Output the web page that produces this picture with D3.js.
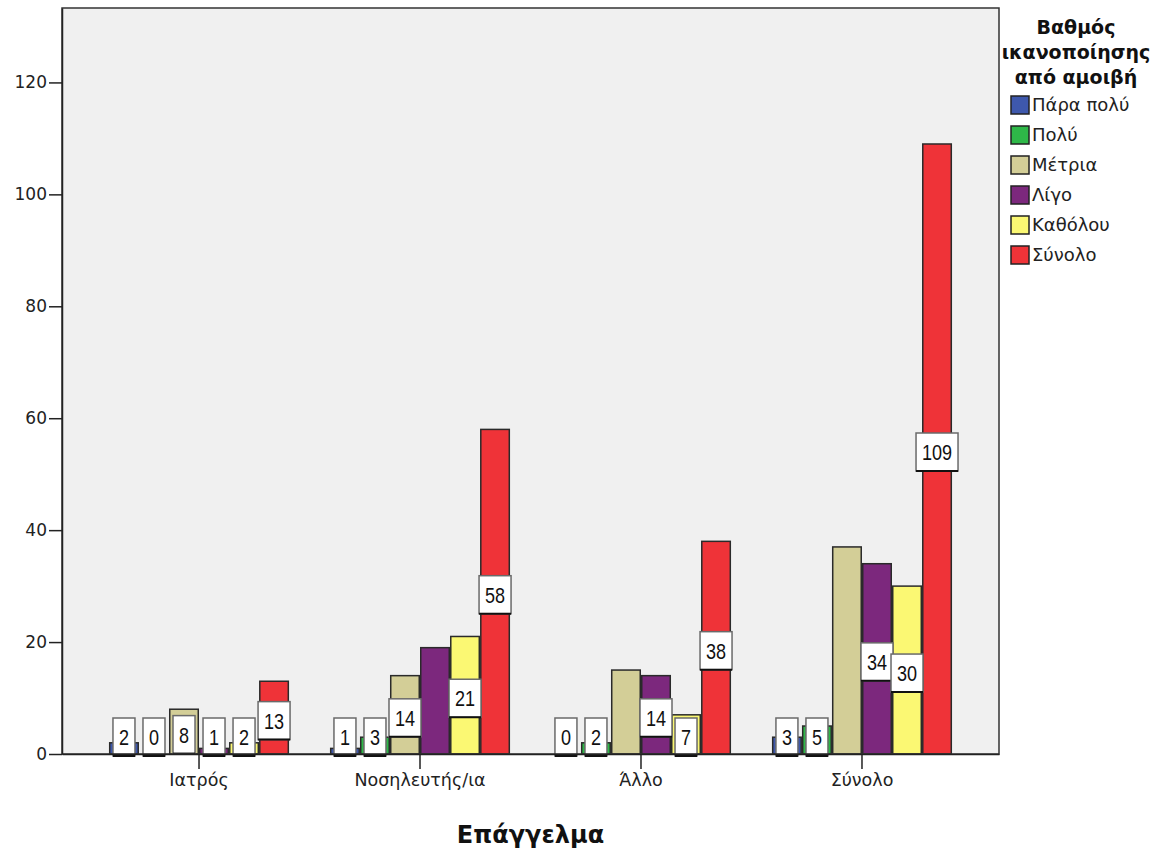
<!DOCTYPE html>
<html><head><meta charset="utf-8">
<script src="https://cdn.jsdelivr.net/npm/d3@7"></script>
<style>body{margin:0;background:#fff;}svg{display:block;font-family:"Liberation Sans",Arial,sans-serif;}</style>
</head><body><svg id="c" width="1156" height="854"></svg>
<script>
const categories = ["Ιατρός","Νοσηλευτής/ια","Άλλο","Σύνολο"];
const seriesNames = ["Πάρα πολύ","Πολύ","Μέτρια","Λίγο","Καθόλου","Σύνολο"];
const seriesColors = ["#3E58AC","#2EB848","#D3CE97","#7C287D","#FBF873","#EF3338"];
const valParaPoli = [2,1,0,3];
const valPoli = [0,3,2,5];
const valMetria = [8,14,15,37];
const valLigo = [1,19,14,34];
const valKatholou = [2,21,7,30];
const valSynolo = [13,58,38,109];
// which bars carry a label box (true = labelled)
const labelParaPoli = [true,true,true,true];
const labelPoli = [true,true,true,true];
const labelMetria = [true,true,false,false];
const labelLigo = [true,false,true,true];
const labelKatholou = [true,true,true,true];
const labelSynolo = [true,true,true,true];
const yTicks = [0,20,40,60,80,100,120];
const xTitle = "Επάγγελμα";
const legendTitle = ["Βαθμός","ικανοποίησης","από αμοιβή"];

const series = [valParaPoli,valPoli,valMetria,valLigo,valKatholou,valSynolo];
const labels = [labelParaPoli,labelPoli,labelMetria,labelLigo,labelKatholou,labelSynolo];
const WIDE = "'DejaVu Sans',Verdana,sans-serif";

const svg = d3.select("#c");
const L=62, T=8, R=999, B=754;
const x = d3.scaleBand().domain(categories).range([L,R]).paddingInner(0).paddingOuter(0.12);
const inner = d3.scaleBand().domain(d3.range(seriesNames.length)).range([0, x.bandwidth()*0.815]).padding(0);
const off = (x.bandwidth() - inner.range()[1])/2;
const y = d3.scaleLinear().domain([0,133.3]).range([B,T]);

svg.append("rect").attr("x",L).attr("y",T).attr("width",R-L).attr("height",B-T).attr("fill","#F0F0F0");

const data=[];
categories.forEach((c,ci)=>series.forEach((s,si)=>data.push({c,si,v:s[ci],lab:labels[si][ci]})));

svg.append("g").selectAll("rect").data(data.filter(d=>d.v>0)).join("rect")
  .attr("x",d=>x(d.c)+off+inner(d.si)+0.75)
  .attr("y",d=>y(d.v))
  .attr("width",inner.bandwidth()-1.5)
  .attr("height",d=>B-y(d.v))
  .attr("fill",d=>seriesColors[d.si])
  .attr("stroke","#2a2a2a").attr("stroke-width",1.5);

// label boxes
const lg = svg.append("g");
data.filter(d=>d.lab).forEach(d=>{
  const cx = x(d.c)+off+inner(d.si)+inner.bandwidth()/2;
  const txt = String(d.v);
  const w = txt.length*10+12;
  const h = 38;
  const mid = (y(d.v)+B)/2 + 3;
  let top = Math.min(mid - h/2, B - h + 2);
  lg.append("rect").attr("x",cx-w/2).attr("y",top).attr("width",w).attr("height",h)
    .attr("fill","#fff").attr("stroke","#6a6a6a").attr("stroke-width",1.5);
  lg.append("line").attr("x1",cx-w/2).attr("x2",cx+w/2).attr("y1",top+h).attr("y2",top+h)
    .attr("stroke","#111").attr("stroke-width",2);
  lg.append("text").attr("x",cx).attr("y",top+h/2+8).attr("text-anchor","middle")
    .attr("font-size",22).attr("fill","#111").text(txt)
    .attr("transform",`translate(${cx},${top+h/2}) scale(0.82,1) translate(${-cx},${-(top+h/2)})`);
});

svg.append("rect").attr("x",L).attr("y",T).attr("width",R-L).attr("height",B-T)
  .attr("fill","none").attr("stroke","#333").attr("stroke-width",1.5);

const ya = svg.append("g").attr("transform",`translate(${L},0)`)
  .call(d3.axisLeft(y).tickValues(yTicks).tickSize(13).tickSizeOuter(0).tickPadding(2));
ya.select(".domain").attr("stroke","#222").attr("stroke-width",1.5);
ya.selectAll(".tick line").attr("stroke","#222").attr("stroke-width",1.5);
ya.selectAll("text").attr("font-size",17).attr("fill","#222").attr("font-family",WIDE);

const xa = svg.append("g").attr("transform",`translate(0,${B})`)
  .call(d3.axisBottom(x).tickSize(15).tickSizeOuter(0).tickPadding(5));
xa.select(".domain").attr("stroke","#222").attr("stroke-width",1.5);
xa.selectAll(".tick line").attr("stroke","#222").attr("stroke-width",1.5);
xa.selectAll("text").attr("font-size",17.5).attr("fill","#222").attr("font-family",WIDE);

svg.append("text").attr("x",(L+R)/2).attr("y",843).attr("text-anchor","middle")
  .attr("font-size",24).attr("font-weight","bold").attr("fill","#111").attr("font-family",WIDE).text(xTitle);

// legend
const lgd = svg.append("g");
legendTitle.forEach((t,i)=>lgd.append("text").attr("x",1076).attr("y",34+i*25).attr("text-anchor","middle")
  .attr("font-size",19).attr("font-weight","bold").attr("fill","#111").attr("font-family",WIDE).text(t));
seriesNames.forEach((n,i)=>{
  const yy = 96 + i*30;
  lgd.append("rect").attr("x",1011).attr("y",yy).attr("width",18).attr("height",18)
    .attr("fill",seriesColors[i]).attr("stroke","#222").attr("stroke-width",1.5);
  lgd.append("text").attr("x",1032).attr("y",yy+15).attr("font-size",18).attr("fill","#222").attr("font-family",WIDE).text(n);
});
</script></body></html>
